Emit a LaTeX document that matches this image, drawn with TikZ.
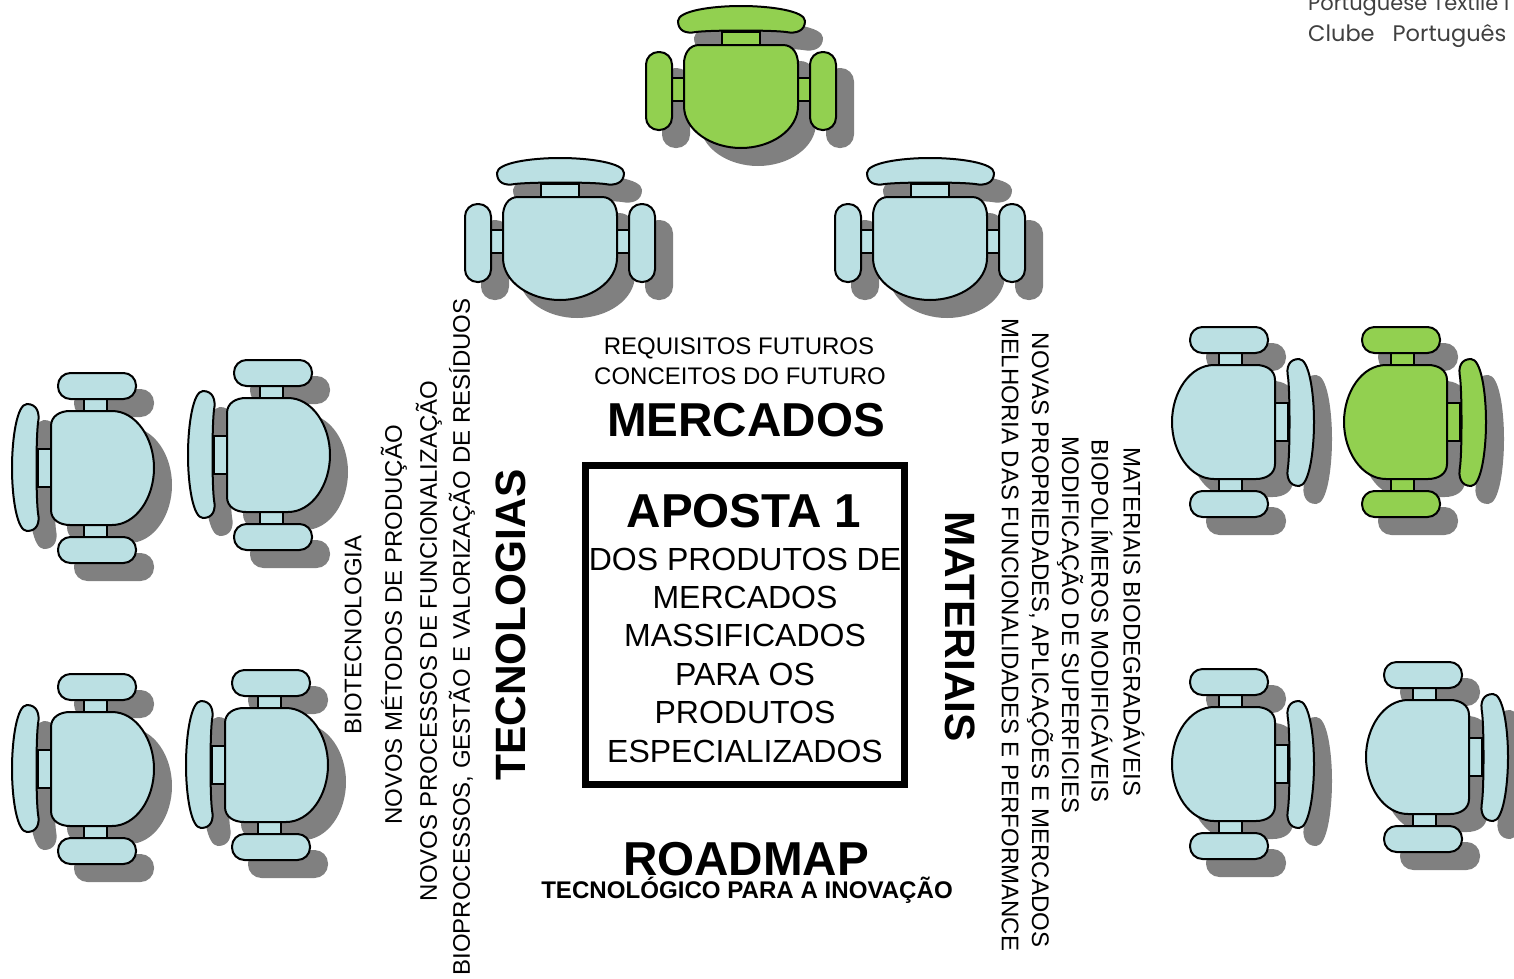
\documentclass[tikz,border=0pt]{standalone}
\usepackage{fontspec}
\setmainfont{Liberation Sans}
\newfontfamily\logofont{Poppins}
\usepackage{tikz}
\definecolor{ChairBlue}{HTML}{BBE0E3}
\definecolor{ChairGreen}{HTML}{92D050}
\definecolor{ChairShadow}{HTML}{808080}

% seat, backrest and arms of one chair, seen from above
\newcommand{\ChairParts}{
	\draw (-19,-64) rectangle (19,-50);
	\draw (-70,-18) rectangle (-56,5);
	\draw (56,-18) rectangle (70,5);
	\draw (-63,-75) .. controls (-63,-85) and (-30,-90) .. (0,-90) .. controls (30,-90) and (64,-85) .. (64,-75) .. controls (64,-65) and (55,-62) .. (45,-64) .. controls (30,-66) and (-30,-66) .. (-45,-64) .. controls (-55,-62) and (-63,-65) .. (-63,-75) -- cycle;
	\draw [rounded corners=12.5pt] (-95,-44) rectangle (-69,34);
	\draw [rounded corners=12.5pt] (69,-44) rectangle (95,34);
	\draw (-42,-51) -- (42,-51) .. controls (52,-51) and (57,-42) .. (57,-32) -- (57,10) .. controls (57,34) and (30,52) .. (0,52) .. controls (-30,52) and (-57,34) .. (-57,10) -- (-57,-32) .. controls (-57,-42) and (-52,-51) .. (-42,-51) -- cycle;
}
% #1 x, #2 y, #3 rotation, #4 colour
\newcommand{\Chair}[4]{
	\begin{scope}[shift={(#1+17,#2+17)}, rotate=#3, every path/.style={draw=ChairShadow, line width=2pt, fill=ChairShadow}]
		\ChairParts
	\end{scope}
	\begin{scope}[shift={(#1,#2)}, rotate=#3, every path/.style={draw=black, line width=2pt, fill=#4}]
		\ChairParts
	\end{scope}
}

\begin{document}
\begin{tikzpicture}[x=1pt, y=-1pt]
	\tikzstyle{Small} = [inner sep=0pt, font=\fontsize{24}{29}\selectfont]
	\tikzstyle{Head}  = [inner sep=0pt, font=\fontsize{47.6}{55}\bfseries\selectfont]
	\tikzstyle{Side}  = [inner sep=0pt, font=\fontsize{42.4}{46}\bfseries\selectfont]
	\tikzstyle{Logo}  = [inner sep=0pt, anchor=west, text=black!75, font=\logofont\fontsize{22.5}{26}\selectfont]

	\useasboundingbox (0,0) rectangle (1514,978);

	\Chair{741}{96}{0}{ChairGreen}
	\Chair{560}{248}{0}{ChairBlue}
	\Chair{930}{248}{0}{ChairBlue}
	\Chair{102}{468}{90}{ChairBlue}
	\Chair{278}{455}{90}{ChairBlue}
	\Chair{102}{769}{90}{ChairBlue}
	\Chair{276}{765}{90}{ChairBlue}
	\Chair{1224}{422}{-90}{ChairBlue}
	\Chair{1396}{422}{-90}{ChairGreen}
	\Chair{1224}{764}{-90}{ChairBlue}
	\Chair{1418}{757}{-90}{ChairBlue}

	\node (logo1) at (1308,5) [Logo, font=\logofont\fontsize{21}{26}\selectfont] {Portuguese Textile I};
	\node (logo2) at (1308,36) [Logo] {Clube\ \ \ Português};

	\node (req) at (739,348) [Small] {REQUISITOS FUTUROS};
	\node (con) at (740,376) [Small] {CONCEITOS DO FUTURO};
	\node (mercados) at (746,420) [Head] {MERCADOS};

	\node (box) at (745,625) [draw, line width=7pt, minimum width=319pt, minimum height=319pt] {};
	\node (aposta) at (744,511) [Head] {APOSTA 1};
	\node (produtos) at (745,655) [inner sep=0pt, align=center, font=\fontsize{32}{38.4}\selectfont] {DOS PRODUTOS DE\\MERCADOS\\MASSIFICADOS\\PARA OS\\PRODUTOS\\ESPECIALIZADOS};

	\node (roadmap) at (746,859) [Head] {ROADMAP};
	\node (tecno) at (747,890) [inner sep=0pt, font=\fontsize{24.1}{29}\bfseries\selectfont] {TECNOLÓGICO PARA A INOVAÇÃO};

	\node (tecnologias) at (511,625) [Side, rotate=90] {TECNOLOGIAS};
	\node (t1) at (353,635) [Small, rotate=90] {BIOTECNOLOGIA};
	\node (t2) at (394,625) [Small, rotate=90] {NOVOS MÉTODOS DE PRODUÇÃO};
	\node (t3) at (429,641) [Small, rotate=90] {NOVOS PROCESSOS DE FUNCIONALIZAÇÃO};
	\node (t4) at (462,637) [Small, rotate=90] {BIOPROCESSOS, GESTÃO E VALORIZAÇÃO DE RESÍDUOS};

	\node (materiais) at (960,627) [Side, rotate=-90] {MATERIAIS};
	\node (m1) at (1010,635) [Small, rotate=-90] {MELHORIA DAS FUNCIONALIDADES E PERFORMANCE};
	\node (m2) at (1040,640) [Small, rotate=-90] {NOVAS PROPRIEDADES, APLICAÇÕES E MERCADOS};
	\node (m3) at (1070,625) [Small, rotate=-90] {MODIFICAÇÃO DE SUPERFICIES};
	\node (m4) at (1102,621) [Small, rotate=-90] {BIOPOLÍMEROS MODIFICÁVEIS};
	\node (m5) at (1134,622) [Small, rotate=-90] {MATERIAIS BIODEGRADÁVEIS};
\end{tikzpicture}
\end{document}
